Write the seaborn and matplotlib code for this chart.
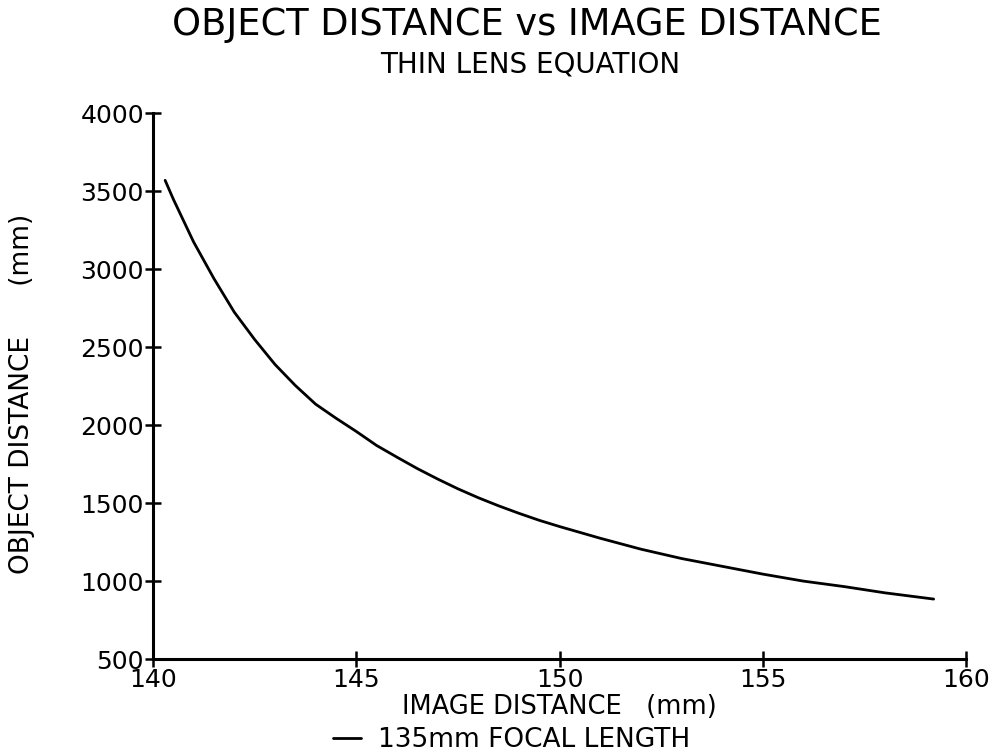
import matplotlib
matplotlib.use("Agg")
import matplotlib.pyplot as plt
import seaborn as sns
import pandas as pd

# Image distance (mm) and the corresponding object distance (mm) for a 135mm lens
image_distance = [140.3, 140.5, 141, 141.5, 142, 142.5, 143, 143.5, 144, 144.5, 145,
                  145.5, 146, 146.5, 147, 147.5, 148, 148.5, 149, 149.5, 150,
                  151, 152, 153, 154, 155, 156, 157, 158, 159.2]
object_distance = [3570, 3450, 3175, 2940, 2725, 2550, 2390, 2255, 2135, 2045, 1960,
                   1870, 1795, 1722, 1655, 1592, 1535, 1483, 1435, 1390, 1350,
                   1275, 1205, 1145, 1095, 1045, 1000, 965, 925, 885]
series_label = "135mm FOCAL LENGTH"

x_ticks = [140, 145, 150, 155, 160]
y_ticks = [500, 1000, 1500, 2000, 2500, 3000, 3500, 4000]

sns.set_style("white")
plt.rcParams["font.family"] = ["DejaVu Sans"]
plt.rcParams["text.color"] = "black"
plt.rcParams["axes.labelcolor"] = "black"

df = pd.DataFrame({"image": image_distance, "object": object_distance,
                   "series": series_label})

fig = plt.figure(figsize=(9.93, 7.55), dpi=100)
ax = fig.add_axes([0.154, 0.127, 0.819, 0.723])

sns.lineplot(data=df, x="image", y="object", hue="series", palette=["black"],
             linewidth=2, ax=ax, legend=False)

ax.set_xlim(140, 160)
ax.set_ylim(500, 4000)
ax.set_xticks(x_ticks)
ax.set_yticks(y_ticks)
ax.set_xticklabels([str(v) for v in x_ticks], fontsize=18)
ax.set_yticklabels([str(v) for v in y_ticks], fontsize=18)
ax.tick_params(bottom=True, left=True, direction="inout", length=11, width=1.8,
               colors="black", pad=1)

for side in ("top", "right"):
    ax.spines[side].set_visible(False)
for side in ("left", "bottom"):
    ax.spines[side].set_linewidth(2.2)
    ax.spines[side].set_color("black")

ax.set_xlabel("IMAGE DISTANCE   (mm)", fontsize=18.5)
ax.xaxis.set_label_coords(0.5, -0.064)
ax.set_ylabel("OBJECT DISTANCE      (mm)", fontsize=19)
ax.yaxis.set_label_coords(-0.145, 0.485)

fig.text(0.531, 0.967, "OBJECT DISTANCE vs IMAGE DISTANCE", ha="center", va="center",
         fontsize=26.5)
fig.text(0.534, 0.914, "THIN LENS EQUATION", ha="center", va="center", fontsize=20)

handle = plt.Line2D([], [], color="black", linewidth=2)
fig.legend([handle], [series_label], loc="center", bbox_to_anchor=(0.515, 0.02),
           frameon=False, prop={"size": 19}, borderpad=0.1,
           handlelength=1.05, handletextpad=0.65)

fig.savefig("out.png", dpi=100, facecolor="white")
